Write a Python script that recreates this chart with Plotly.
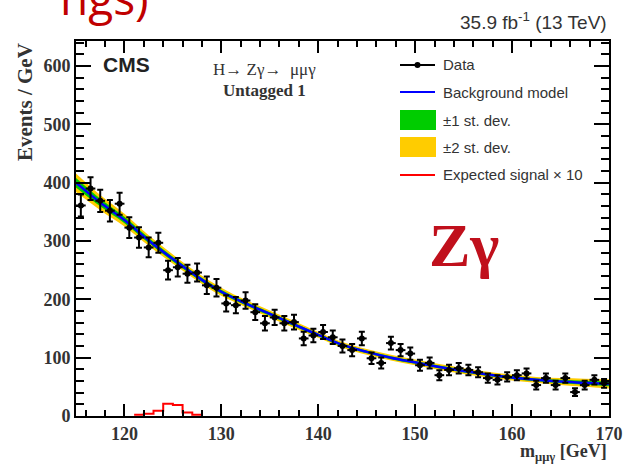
import plotly.graph_objects as go

# ---------------- data ----------------
mass_centers = [115.5 + i for i in range(55)]
data_counts = [361, 390, 369, 352, 364, 323, 306, 289, 297, 250,
               255, 244, 246, 224, 220, 193, 190, 198, 178, 159,
               169, 159, 161, 133, 138, 144, 135, 120, 113, 133,
               99, 91, 125, 113, 107, 87, 91, 70, 79, 82,
               79, 75, 65, 62, 67, 70, 73, 53, 65, 53,
               65, 41, 53, 62, 56]
data_err = [19, 19.5, 19, 18.5, 19, 18, 17.5, 17, 17, 16,
            16, 15.5, 15.5, 15, 15, 14, 14, 14, 13.5, 12.5,
            13, 12.5, 12.5, 11.5, 11.5, 12, 11.5, 11, 10.5, 11.5,
            10, 9.5, 11, 10.5, 10.5, 9.5, 9.5, 8.5, 9, 9,
            9, 8.5, 8, 8, 8, 8.5, 8.5, 7.5, 8, 7.5,
            8, 6.5, 7.5, 8, 7.5]
bin_half_width = [0.5] * 55

bkg_mass = [115, 117.5, 120, 122.5, 125, 127.5, 130, 132.5, 135, 137.5, 140, 142.5,
            145, 147.5, 150, 152.5, 155, 157.5, 160, 162.5, 165, 167.5, 170]
bkg_model = [400, 366, 336, 301, 269, 239, 213, 193, 175, 157, 139, 122,
             110, 100, 92, 84, 77, 71, 66, 62, 59, 57, 55]
band_1sig = [8, 6.5, 5.5, 4.5, 4, 3.5, 3.5, 3, 3, 3, 2.5, 2.5,
             2.5, 2.5, 2.5, 2.5, 2.5, 2.5, 2.5, 2.5, 3, 3.5, 4]
band_2sig = [16, 13, 11, 9, 8, 7, 7, 6, 6, 6, 5, 5,
             5, 5, 5, 5, 5, 5, 5, 5, 6, 7, 8]

sig_edges = [121, 122, 123, 124, 125, 126, 127, 128]
sig_x10 = [2, 4, 9, 21, 19, 6, 2]

x_ticks = [120, 130, 140, 150, 160, 170]
y_ticks = [0, 100, 200, 300, 400, 500, 600]

# ---------------- geometry helpers (pixel -> paper) ----------------
L, R, T, B = 76, 609, 41, 416
W, H = 624, 464
def px(xp):
    return (xp - L) / (R - L)
def py(yp):
    return (B - yp) / (B - T)

fig = go.Figure()

up2 = [b + s for b, s in zip(bkg_model, band_2sig)]
lo2 = [b - s for b, s in zip(bkg_model, band_2sig)]
up1 = [b + s for b, s in zip(bkg_model, band_1sig)]
lo1 = [b - s for b, s in zip(bkg_model, band_1sig)]

fig.add_trace(go.Scatter(x=bkg_mass, y=lo2, mode="lines", line=dict(width=0, shape="spline"),
                         showlegend=False, hoverinfo="skip"))
fig.add_trace(go.Scatter(x=bkg_mass, y=up2, mode="lines", line=dict(width=0, shape="spline"),
                         fill="tonexty", fillcolor="#ffcc00", showlegend=False, hoverinfo="skip"))
fig.add_trace(go.Scatter(x=bkg_mass, y=lo1, mode="lines", line=dict(width=0, shape="spline"),
                         showlegend=False, hoverinfo="skip"))
fig.add_trace(go.Scatter(x=bkg_mass, y=up1, mode="lines", line=dict(width=0, shape="spline"),
                         fill="tonexty", fillcolor="#00cc00", showlegend=False, hoverinfo="skip"))
fig.add_trace(go.Scatter(x=bkg_mass, y=bkg_model, mode="lines",
                         line=dict(color="#0000ff", width=2.5, shape="spline"),
                         showlegend=False))

fig.add_trace(go.Scatter(x=sig_edges, y=sig_x10 + [sig_x10[-1]], mode="lines",
                         line=dict(color="#ff0000", width=2, shape="hv"), showlegend=False))

fig.add_trace(go.Scatter(
    x=mass_centers, y=data_counts, mode="markers",
    marker=dict(color="black", size=6),
    error_y=dict(type="data", array=data_err, color="black", thickness=2, width=3),
    error_x=dict(type="data", array=bin_half_width, color="black", thickness=2, width=0),
    showlegend=False))

# ---------------- axes ----------------
tickfont = dict(family="Liberation Serif", size=18, color="#333333", weight="bold")
fig.update_xaxes(range=[115, 170.01], tickvals=x_ticks, ticks="inside", ticklen=12, tickwidth=2,
                 tickcolor="black", showline=True, linecolor="black", linewidth=2,
                 mirror="allticks", showgrid=False, zeroline=False, tickfont=tickfont,
                 automargin=False,
                 minor=dict(dtick=2, tick0=0, ticks="inside", ticklen=6, tickwidth=2,
                            tickcolor="black", showgrid=False))
fig.update_yaxes(range=[0, 643], tickvals=y_ticks, ticks="inside", ticklen=15, tickwidth=2,
                 tickcolor="black", showline=True, linecolor="black", linewidth=2,
                 mirror="allticks", showgrid=False, zeroline=False, tickfont=tickfont,
                 automargin=False,
                 minor=dict(dtick=20, tick0=0, ticks="inside", ticklen=8, tickwidth=2,
                            tickcolor="black", showgrid=False))

# ---------------- legend (manual) ----------------
shapes = []
annotations = []
leg_x0, leg_x1 = 400, 435
leg_font = dict(family="Liberation Sans", size=15, color="#333333")
rows = [("Data", 65), ("Background model", 92), ("\u00b11 st. dev.", 120),
        ("\u00b12 st. dev.", 147), ("Expected signal \u00d7 10", 175)]
shapes.append(dict(type="line", xref="paper", yref="paper", x0=px(leg_x0), x1=px(leg_x1),
                   y0=py(65), y1=py(65), line=dict(color="black", width=2)))
shapes.append(dict(type="circle", xref="paper", yref="paper", x0=px(414.5), x1=px(420.5),
                   y0=py(68), y1=py(62), fillcolor="black", line=dict(color="black", width=0)))
shapes.append(dict(type="line", xref="paper", yref="paper", x0=px(leg_x0), x1=px(leg_x1),
                   y0=py(92), y1=py(92), line=dict(color="#0000ff", width=2)))
shapes.append(dict(type="rect", xref="paper", yref="paper", x0=px(400), x1=px(436),
                   y0=py(130), y1=py(110), fillcolor="#00cc00", line=dict(width=0)))
shapes.append(dict(type="rect", xref="paper", yref="paper", x0=px(400), x1=px(436),
                   y0=py(157), y1=py(137), fillcolor="#ffcc00", line=dict(width=0)))
shapes.append(dict(type="line", xref="paper", yref="paper", x0=px(leg_x0), x1=px(leg_x1),
                   y0=py(175), y1=py(175), line=dict(color="#ff0000", width=2)))
for txt, yy in rows:
    annotations.append(dict(text=txt, xref="paper", yref="paper", x=px(441), y=py(yy),
                            xanchor="left", yanchor="middle", showarrow=False, font=leg_font))

# ---------------- texts ----------------
serif_bold = dict(family="Liberation Serif", weight="bold", color="#333333")
annotations += [
    dict(text="CMS", xref="paper", yref="paper", x=px(101), y=py(64), xanchor="left",
         yanchor="middle", showarrow=False,
         font=dict(family="Liberation Sans", size=21, weight="bold", color="#222222")),
    dict(text="H\u2192 Z\u03b3\u2192  \u03bc\u03bc\u03b3", xref="paper", yref="paper", x=px(264), y=py(69),
         xanchor="center", yanchor="middle", showarrow=False,
         font=dict(family="Liberation Serif", size=17, color="#333333")),
    dict(text="Untagged 1", xref="paper", yref="paper", x=px(264), y=py(91),
         xanchor="center", yanchor="middle", showarrow=False,
         font=dict(size=17, **serif_bold)),
    dict(text="35.9 fb<sup>-1</sup> (13 TeV)", xref="paper", yref="paper", x=1.0, y=py(21),
         xanchor="right", yanchor="middle", showarrow=False,
         font=dict(family="Liberation Sans", size=19, color="#333333")),
    dict(text="Events / GeV", xref="paper", yref="paper", x=px(25), y=1.0, textangle=-90,
         xanchor="center", yanchor="top", showarrow=False, font=dict(size=21, **serif_bold)),
    dict(text="m<sub>\u03bc\u03bc\u03b3</sub> [GeV]", xref="paper", yref="paper", x=1.0, y=py(452),
         xanchor="right", yanchor="middle", showarrow=False, font=dict(size=18, **serif_bold)),
    dict(text="Z\u03b3", xref="paper", yref="paper", x=px(464), y=py(245),
         xanchor="center", yanchor="middle", showarrow=False,
         font=dict(family="Liberation Serif", size=62, weight="bold", color="#c0101c")),
    dict(text="ngs)", xref="paper", yref="paper", x=px(58), y=py(30),
         xanchor="left", yanchor="bottom", showarrow=False,
         font=dict(family="Open Sans", size=46, color="#c00000")),
]

fig.update_layout(
    width=W, height=H,
    margin=dict(l=L, r=W - R, t=T, b=H - B, autoexpand=False),
    paper_bgcolor="white", plot_bgcolor="white",
    showlegend=False, shapes=shapes, annotations=annotations,
)

fig.write_html("out.html", config={"displayModeBar": False},
               post_script="document.body.style.margin='0px';")
